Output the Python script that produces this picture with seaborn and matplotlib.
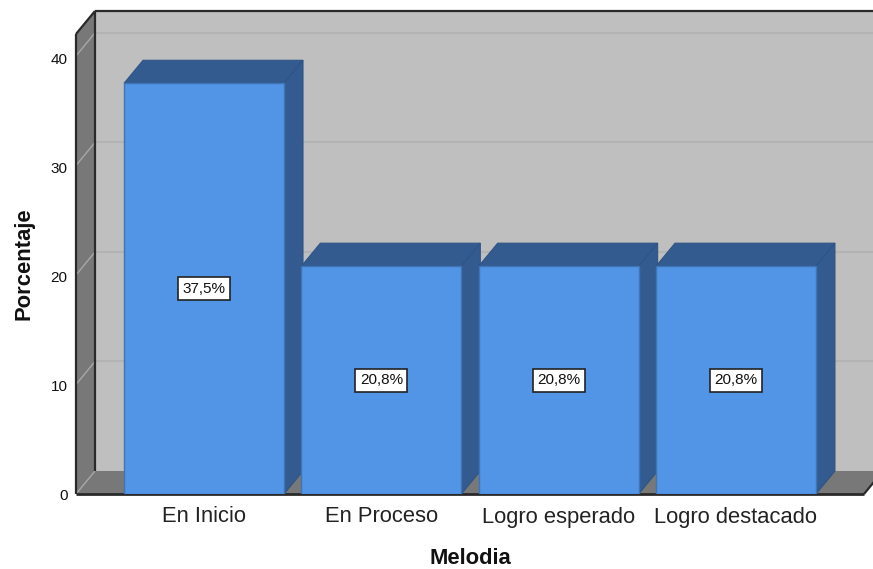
import numpy as np
import pandas as pd
import seaborn as sns
import matplotlib.pyplot as plt
from matplotlib.patches import Polygon
from matplotlib.transforms import ScaledTranslation

# datos
categorias = ['En Inicio', 'En Proceso', 'Logro esperado', 'Logro destacado']
porcentajes = [37.5, 20.8, 20.8, 20.8]
etiquetas = ['37,5%', '20,8%', '20,8%', '20,8%']
ticks_y = [0, 10, 20, 30, 40]

color_frente = '#5294E6'
color_oscuro = '#335B8F'
color_pared = '#BFBFBF'
color_lado = '#787878'
color_rejilla = '#B3B3B3'
color_borde = '#2A2A2A'

sns.set_theme(style='white')
plt.rcParams['font.family'] = ['Liberation Sans', 'DejaVu Sans']

W, H = 873, 569
fig = plt.figure(figsize=(W / 100, H / 100), dpi=100)
ax = fig.add_axes([76 / W, 1 - 494 / H, (864 - 76) / W, (494 - 34) / H])

df = pd.DataFrame({'cat': categorias, 'pct': porcentajes})
sns.barplot(data=df, x='cat', y='pct', color=color_frente, saturation=1, width=0.902,
            edgecolor='#3F74B5', linewidth=1, ax=ax, zorder=3)

xmin, xmax = -0.722, 3.722
ymax = 42
ax.set_xlim(xmin, xmax)
ax.set_ylim(0, ymax)
dx = 19 / 177.33
dy = 23 / 10.95


def poly(pts, color, z, edge='none', lw=0):
    ax.add_patch(Polygon(pts, closed=True, facecolor=color, edgecolor=edge, linewidth=lw,
                         zorder=z, clip_on=False))


def linea(xs, ys, color, lw, z):
    ax.plot(xs, ys, color=color, lw=lw, zorder=z, clip_on=False, solid_capstyle='butt')


# paredes y piso
poly([(xmin + dx, dy), (xmax + dx, dy), (xmax + dx, ymax + dy), (xmin + dx, ymax + dy)], color_pared, 0.5)
poly([(xmin, 0), (xmin + dx, dy), (xmin + dx, ymax + dy), (xmin, ymax)], color_lado, 0.6)
poly([(xmin, 0), (xmax, 0), (xmax + dx, dy), (xmin + dx, dy)], color_lado, 0.6)

# rejilla
for v in ticks_y[1:]:
    linea([xmin + dx, xmax + dx], [v + dy, v + dy], color_rejilla, 1.5, 0.8)
for v in ticks_y:
    linea([xmin, xmin + dx], [v, v + dy], '#A8A8A8', 1.0, 0.8)

# bordes
linea([xmin, xmin], [0, ymax], color_borde, 1.6, 1)
linea([xmin, xmin + dx], [ymax, ymax + dy], color_borde, 1.6, 1)
linea([xmin + dx, xmin + dx], [dy, ymax + dy], color_borde, 1.6, 1)
linea([xmin + dx, xmax + dx], [ymax + dy, ymax + dy], color_borde, 1.6, 1)
linea([xmin, xmax], [0, 0], color_borde, 2, 1)
linea([xmax, xmax + dx], [0, dy], color_borde, 1.6, 1)

# caras 3d de cada barra
for p in ax.patches[:len(categorias)]:
    x0, w, h = p.get_x(), p.get_width(), p.get_height()
    x1 = x0 + w
    poly([(x0, h), (x1, h), (x1 + dx, h + dy), (x0 + dx, h + dy)], color_oscuro, 2, '#2F5485', 0.8)
    poly([(x1, 0), (x1 + dx, dy), (x1 + dx, h + dy), (x1, h)], color_oscuro, 2, '#2F5485', 0.8)

ax.bar_label(ax.containers[0], labels=etiquetas, label_type='center', fontsize=11, color='#111111',
             bbox=dict(boxstyle='square,pad=0.3', facecolor='white', edgecolor='#222222', linewidth=1.2),
             zorder=6)

sns.despine(ax=ax, left=True, bottom=True, top=True, right=True)
ax.grid(False)
ax.patch.set_visible(False)
ax.set_yticks(ticks_y)
ax.set_xticks(np.arange(len(categorias)))
ax.set_xticklabels(categorias)
ax.tick_params(axis='y', length=0, pad=6, labelsize=11, labelcolor='#111111')
ax.tick_params(axis='x', length=0, pad=9, labelsize=15.8, labelcolor='#222222')
ax.set_xlabel('Melodia', fontsize=15.8, fontweight='bold', color='#111111', labelpad=15)
ax.set_ylabel('Porcentaje', fontsize=15.8, fontweight='bold', color='#111111', labelpad=12)

# los numeros del eje van un poco mas abajo que la rejilla
for lbl, v in zip(ax.get_yticklabels(), ticks_y):
    lbl.set_transform(lbl.get_transform() + ScaledTranslation(0, -0.00075 * v, fig.dpi_scale_trans))

fig.savefig('out.png', dpi=100, facecolor='white')
